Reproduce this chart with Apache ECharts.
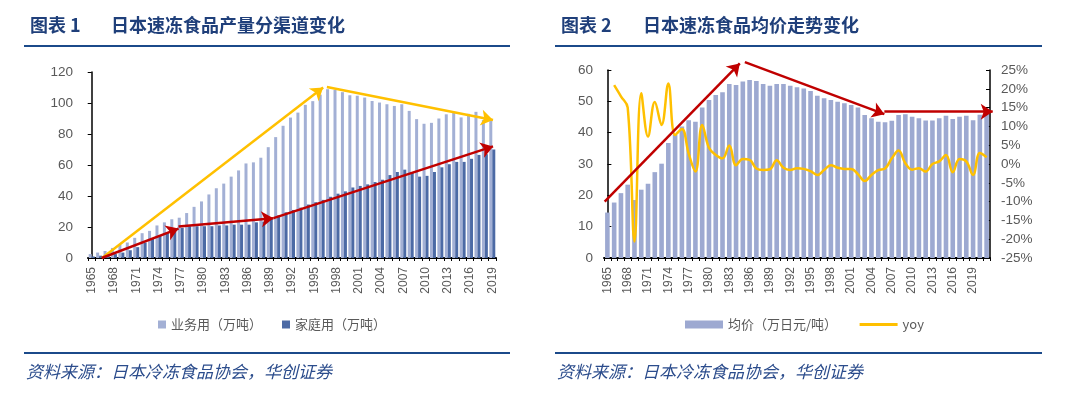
<!DOCTYPE html>
<html>
<head>
<meta charset="utf-8">
<script src="https://cdn.jsdelivr.net/npm/echarts@6/dist/echarts.min.js"></script>
<style>
  html, body { margin: 0; padding: 0; background: #fff; }
  #chart { width: 1080px; height: 396px; }
</style>
</head>
<body>
<div id="chart"></div>
<script>
// 图表1 years 1965-2019
var yearsL = ['1965','1966','1967','1968','1969','1970','1971','1972','1973','1974',
  '1975','1976','1977','1978','1979','1980','1981','1982','1983','1984',
  '1985','1986','1987','1988','1989','1990','1991','1992','1993','1994',
  '1995','1996','1997','1998','1999','2000','2001','2002','2003','2004',
  '2005','2006','2007','2008','2009','2010','2011','2012','2013','2014',
  '2015','2016','2017','2018','2019'];
// 业务用（万吨）
var business = [2.5, 3.5, 4.5, 6.5, 8.5, 10, 13, 16, 17.5, 21,
  23, 25, 26, 29, 33, 36.5, 41, 45, 48, 52.5,
  56.5, 61, 61.7, 64.7, 71.5, 78, 85.3, 90.6, 93.8, 98.8,
  101.2, 105.4, 108.9, 108.5, 107, 105, 104.7, 103.5, 101.3, 100.3,
  99.2, 98.1, 99.2, 94.9, 89.6, 86.6, 87.2, 90, 92.7, 93.7,
  90.7, 93, 94.3, 89, 88.5];
// 家庭用（万吨）
var household = [1, 1.5, 2, 2.5, 3.5, 5, 7, 10, 12.5, 14.5,
  16.5, 18.5, 19.5, 20.5, 20.5, 20.5, 20.5, 21, 21, 21.5,
  21.5, 21.5, 23, 23.5, 25.3, 27.5, 29.5, 31, 32.5, 34.5,
  36, 37.5, 39.5, 41.5, 43, 45.5, 46.5, 47.5, 49, 50.5,
  53.5, 55.5, 57, 55, 52.5, 53, 55.5, 58.5, 60.5, 62,
  62, 64, 66.5, 67, 70];

// 图表2 years 1965-2021
var yearsR = yearsL.concat(['2020','2021']);
// 均价（万日元/吨）
var price = [14.5, 17.7, 20.7, 23.4, 18.5, 21.8, 23.7, 27.4, 30.1, 36.7,
  39.3, 42, 44, 43.5, 48, 50.4, 52, 52.9, 55.5, 55.2,
  56.3, 56.8, 56.5, 55.5, 55, 55.5, 55.5, 55, 54.5, 54.1,
  53.3, 51.8, 51, 50.4, 49.9, 49.4, 48.8, 48, 45.6, 44.6,
  43.5, 43.3, 43.8, 45.6, 45.9, 45.1, 44.6, 43.9, 43.9, 44.6,
  45.4, 44.4, 45.1, 45.4, 44, 45.7, 46.4];
// yoy (%)
var yoy = [null, 21, 18, 15, -20.6, 18.8, 7.3, 16.5, 10.4, 21.4,
  7.7, 9.3, 2.8, -2, 10.4, 4.3, 2.4, 1.5, 4.9, -0.3,
  1.3, 1.1, -1.2, -1.6, -1.4, 1, -1, -1.6, -1.1, -1.3,
  -1.9, -2.9, -1.6, -0.3, -1, -1.3, -1.3, -2.7, -4.5, -2.9,
  -1.6, -1.2, 1.5, 3.6, 0.2, -1.5, -1.1, -2, 0, 0.7,
  2.4, -2.2, 1.3, 0.7, -2.9, 2.9, 1.8];

// annotation arrows, [category index, value] pairs
var yellowArrowsL = [[[1.4, 0], [31.2, 110]], [[31.7, 110.3], [54.1, 89]]];
var redArrowsL = [[[1.35, 0], [11.7, 19]], [[11.7, 20.3], [24.5, 25.7]], [[24.5, 25.7], [54.1, 72]]];
var redArrowsR = [[[-0.4, 18], [19.55, 62.1]], [[20.3, 62.5], [40.9, 45.9]], [[40.9, 46.7], [56.9, 46.7]]];

var gray = '#595959';
var navy = '#1F3F7A';
var numFont = 'Liberation Sans';
var cjkFont = 'Noto Sans CJK SC';

function toLines(list) {
  return list.map(function (c) { return { coords: c }; });
}

var titleStyle = { color: navy, fontSize: 18, fontWeight: 'bold', fontFamily: cjkFont };
var sourceStyle = { color: '#2B4C8C', fontSize: 17, fontWeight: 'normal', fontStyle: 'italic', fontFamily: cjkFont };

var chart = echarts.init(document.getElementById('chart'));
chart.setOption({
  animation: false,
  backgroundColor: '#fff',
  title: [
    { text: '图表 1', left: 25, top: 11, textStyle: titleStyle },
    { text: '日本速冻食品产量分渠道变化', left: 106, top: 11, textStyle: titleStyle },
    { text: '图表 2', left: 556, top: 11, textStyle: titleStyle },
    { text: '日本速冻食品均价走势变化', left: 638, top: 11, textStyle: titleStyle },
    { text: '资料来源：日本冷冻食品协会，华创证券', left: 21, top: 358, textStyle: sourceStyle },
    { text: '资料来源：日本冷冻食品协会，华创证券', left: 552, top: 358, textStyle: sourceStyle }
  ],
  graphic: [
    { type: 'line', shape: { x1: 24, y1: 46, x2: 510, y2: 46 }, style: { stroke: '#1B4A8A', lineWidth: 2 } },
    { type: 'line', shape: { x1: 555, y1: 46, x2: 1042, y2: 46 }, style: { stroke: '#1B4A8A', lineWidth: 2 } },
    { type: 'line', shape: { x1: 24, y1: 353, x2: 510, y2: 353 }, style: { stroke: '#1B4A8A', lineWidth: 2 } },
    { type: 'line', shape: { x1: 555, y1: 353, x2: 1042, y2: 353 }, style: { stroke: '#1B4A8A', lineWidth: 2 } }
  ],
  legend: [
    {
      data: ['业务用（万吨）', '家庭用（万吨）'],
      left: 158, top: 318, padding: 0, icon: 'rect', itemWidth: 8, itemHeight: 8, itemGap: 20,
      textStyle: { color: gray, fontSize: 13, fontFamily: cjkFont }
    },
    {
      data: [
        { name: '均价（万日元/吨）', icon: 'rect' },
        { name: 'yoy', itemStyle: { opacity: 0 }, lineStyle: { width: 3 } }
      ],
      left: 685, top: 318, padding: 0, itemWidth: 38, itemHeight: 8, itemGap: 21,
      textStyle: { color: gray, fontSize: 13, fontFamily: cjkFont }
    }
  ],
  grid: [
    { left: 88, right: 584, top: 72, bottom: 138 },
    { left: 604, right: 90, top: 70, bottom: 138 }
  ],
  xAxis: [
    {
      type: 'category', gridIndex: 0, data: yearsL,
      axisLine: { lineStyle: { color: '#000', width: 2 } },
      axisTick: { show: true, interval: 0, length: 3, lineStyle: { color: '#000' } },
      axisLabel: { interval: 2, rotate: 90, margin: 9, color: gray, fontSize: 12, fontFamily: numFont }
    },
    { type: 'value', gridIndex: 0, min: -0.5, max: 54.5, show: false },
    {
      type: 'category', gridIndex: 1, data: yearsR,
      axisLine: { lineStyle: { color: '#000', width: 2 } },
      axisTick: { show: true, interval: 0, length: 3, lineStyle: { color: '#000' } },
      axisLabel: { interval: 2, rotate: 90, margin: 9, color: gray, fontSize: 12, fontFamily: numFont }
    },
    { type: 'value', gridIndex: 1, min: -0.5, max: 56.5, show: false }
  ],
  yAxis: [
    {
      type: 'value', gridIndex: 0, min: 0, max: 120, interval: 20,
      axisLine: { show: true, lineStyle: { color: '#000', width: 1.5 } },
      axisTick: { show: true, length: 4, lineStyle: { color: '#000' } },
      splitLine: { show: false },
      axisLabel: { margin: 15, color: gray, fontSize: 13.5, fontFamily: numFont }
    },
    {
      type: 'value', gridIndex: 1, min: 0, max: 60, interval: 10,
      axisLine: { show: true, lineStyle: { color: '#000', width: 1.5 } },
      axisTick: { show: true, inside: true, length: 4, lineStyle: { color: '#000' } },
      splitLine: { show: false },
      axisLabel: { margin: 11, color: gray, fontSize: 13.5, fontFamily: numFont }
    },
    {
      type: 'value', gridIndex: 1, position: 'right', min: -25, max: 25, interval: 5,
      axisLine: { show: true, lineStyle: { color: '#000', width: 1.5 } },
      axisTick: { show: true, inside: true, length: 4, lineStyle: { color: '#000' } },
      splitLine: { show: false },
      axisLabel: { margin: 11, color: gray, fontSize: 13.5, fontFamily: numFont, formatter: '{value}%' }
    }
  ],
  series: [
    {
      name: '业务用（万吨）', type: 'bar', xAxisIndex: 0, yAxisIndex: 0,
      data: business, barWidth: 3, barGap: '0%',
      itemStyle: { color: '#A3B0D5' }
    },
    {
      name: '家庭用（万吨）', type: 'bar', xAxisIndex: 0, yAxisIndex: 0,
      data: household, barWidth: 3, barGap: '0%',
      itemStyle: { color: '#4C6AA5' }
    },
    {
      name: 'arrowYellowL', type: 'lines', coordinateSystem: 'cartesian2d',
      xAxisIndex: 1, yAxisIndex: 0, clip: false, z: 5, silent: true,
      symbol: ['none', 'arrow'], symbolSize: [1, 12],
      lineStyle: { color: '#FFC000', width: 2.5, opacity: 1, curveness: 0 },
      data: toLines(yellowArrowsL)
    },
    {
      name: 'arrowRedL', type: 'lines', coordinateSystem: 'cartesian2d',
      xAxisIndex: 1, yAxisIndex: 0, clip: false, z: 5, silent: true,
      symbol: ['none', 'arrow'], symbolSize: [1, 12],
      lineStyle: { color: '#C00000', width: 2.5, opacity: 1, curveness: 0 },
      data: toLines(redArrowsL)
    },
    {
      name: '均价（万日元/吨）', type: 'bar', xAxisIndex: 2, yAxisIndex: 1,
      data: price, barWidth: '68%',
      itemStyle: { color: '#9DA9D1' }
    },
    {
      name: 'yoy', type: 'line', xAxisIndex: 2, yAxisIndex: 2,
      data: yoy, smooth: 0.4, symbol: 'none', z: 4,
      lineStyle: { color: '#FFC000', width: 2.5 },
      itemStyle: { color: '#FFC000' }
    },
    {
      name: 'arrowRedR', type: 'lines', coordinateSystem: 'cartesian2d',
      xAxisIndex: 3, yAxisIndex: 1, clip: false, z: 6, silent: true,
      symbol: ['none', 'arrow'], symbolSize: [1, 12],
      lineStyle: { color: '#C00000', width: 2.5, opacity: 1, curveness: 0 },
      data: toLines(redArrowsR)
    }
  ]
});
</script>
</body>
</html>
